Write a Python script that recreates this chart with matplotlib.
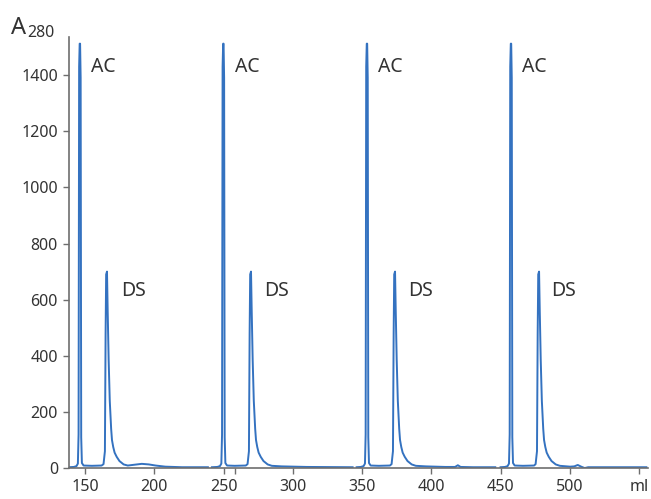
import matplotlib
matplotlib.use("Agg")
import matplotlib.pyplot as plt

# four consecutive runs, each trace (ml, A280)
run1_ml = [138.5, 142.0, 143.9, 144.9, 145.4, 145.8, 146.2, 146.5, 146.9, 147.3, 147.8, 149.0,
           155.0, 162.0, 163.4, 164.4, 164.9, 165.3, 165.9, 166.4, 167.1, 167.9, 168.9, 169.5,
           170.4, 171.4, 172.9, 174.9, 177.9, 180.9, 185.9, 191.0, 196.0, 201.0, 208.0, 220.0, 238.7]
run1_a = [3, 4, 7, 16, 120, 1430, 1512, 1512, 1390, 110, 18, 9,
          8, 9, 14, 60, 480, 690, 700, 560, 385, 240, 140, 100,
          75, 55, 40, 25, 13, 9, 12, 15, 13, 9, 5, 3, 3]

run2_ml = [241.6, 245.5, 247.4, 248.4, 248.9, 249.3, 249.7, 250.0, 250.4, 250.8, 251.3, 252.5,
           258.0, 266.0, 267.3, 268.3, 268.8, 269.2, 269.8, 270.3, 271.0, 271.8, 272.8, 273.4,
           274.3, 275.3, 276.8, 278.8, 281.8, 284.8, 292.0, 310.0, 343.1]
run2_a = [3, 4, 7, 16, 120, 1430, 1512, 1512, 1390, 110, 18, 9,
          8, 9, 14, 60, 480, 690, 700, 560, 385, 240, 140, 100,
          75, 55, 40, 25, 13, 8, 6, 4, 3]

run3_ml = [346.0, 349.0, 351.0, 352.0, 352.5, 352.9, 353.3, 353.6, 354.0, 354.4, 354.9, 356.1,
           362.0, 370.0, 371.2, 372.2, 372.7, 373.1, 373.7, 374.2, 374.9, 375.7, 376.7, 377.3,
           378.2, 379.2, 380.7, 382.7, 385.7, 388.7, 396.0, 410.0, 417.0, 419.0, 421.0, 430.0, 446.0]
run3_a = [3, 4, 7, 16, 120, 1430, 1512, 1512, 1390, 110, 18, 9,
          8, 9, 14, 60, 480, 690, 700, 560, 385, 240, 140, 100,
          75, 55, 40, 25, 13, 8, 6, 4, 4, 10, 4, 3, 3]

run4_ml = [449.8, 453.0, 454.9, 455.9, 456.4, 456.8, 457.2, 457.5, 457.9, 458.3, 458.8, 460.0,
           466.0, 474.0, 475.1, 476.1, 476.6, 477.0, 477.6, 478.1, 478.8, 479.6, 480.6, 481.2,
           482.1, 483.1, 484.6, 486.6, 489.6, 492.6, 500.0, 503.0, 505.5, 508.0, 510.5, 513.0, 530.0, 555.0]
run4_a = [3, 4, 7, 16, 120, 1430, 1512, 1512, 1390, 110, 18, 9,
          8, 9, 14, 60, 480, 690, 700, 560, 385, 240, 140, 100,
          75, 55, 40, 25, 13, 8, 5, 6, 11, 5, 0, 3, 3, 3]

runs = [(run1_ml, run1_a), (run2_ml, run2_a), (run3_ml, run3_a), (run4_ml, run4_a)]

ac_label_ml = [154.3, 258.0, 361.6, 465.5]
ds_label_ml = [175.8, 279.0, 382.8, 486.6]
ac_label_a = 1430
ds_label_a = 632

x_ticks = [150, 200, 250, 300, 350, 400, 450, 500, 550]
x_tick_labels = ["150", "200", "250", "300", "350", "400", "450", "500", "ml"]
y_ticks = [0, 200, 400, 600, 800, 1000, 1200, 1400]

plt.rcParams['font.family'] = ['Noto Sans', 'DejaVu Sans']
text_color = "#333333"
axis_color = "#6e6e6e"
line_color = "#3472c0"

fig = plt.figure(figsize=(6.51, 4.99), dpi=100)
ax = fig.add_axes([0.106, 0.062, 0.889, 0.864])

for ml, a in runs:
    ax.plot(ml, a, color=line_color, linewidth=1.4, solid_joinstyle='round')

for x in ac_label_ml:
    ax.text(x, ac_label_a, "AC", fontsize=14, color=text_color, va="center", ha="left")
for x in ds_label_ml:
    ax.text(x, ds_label_a, "DS", fontsize=14, color=text_color, va="center", ha="left")

ax.set_xlim(138.5, 556)
ax.set_ylim(0, 1536)
ax.set_xticks(x_ticks)
ax.set_xticklabels(x_tick_labels)
ax.set_xticks([258.2], minor=True)
ax.set_yticks(y_ticks)

for side in ["top", "right"]:
    ax.spines[side].set_visible(False)
for side in ["left", "bottom"]:
    ax.spines[side].set_color(axis_color)
    ax.spines[side].set_linewidth(1.2)

ax.tick_params(axis="both", which="both", direction="out", length=4, width=1,
               color=axis_color, labelsize=11.5, labelcolor=text_color, pad=4)

fig.text(11 / 651, 1 - 34 / 499, "A", fontsize=17, color=text_color, va="baseline", ha="left")
fig.text(27 / 651, 1 - 37 / 499, "280", fontsize=11.5, color=text_color, va="baseline", ha="left")

fig.savefig("out.png", dpi=100)
